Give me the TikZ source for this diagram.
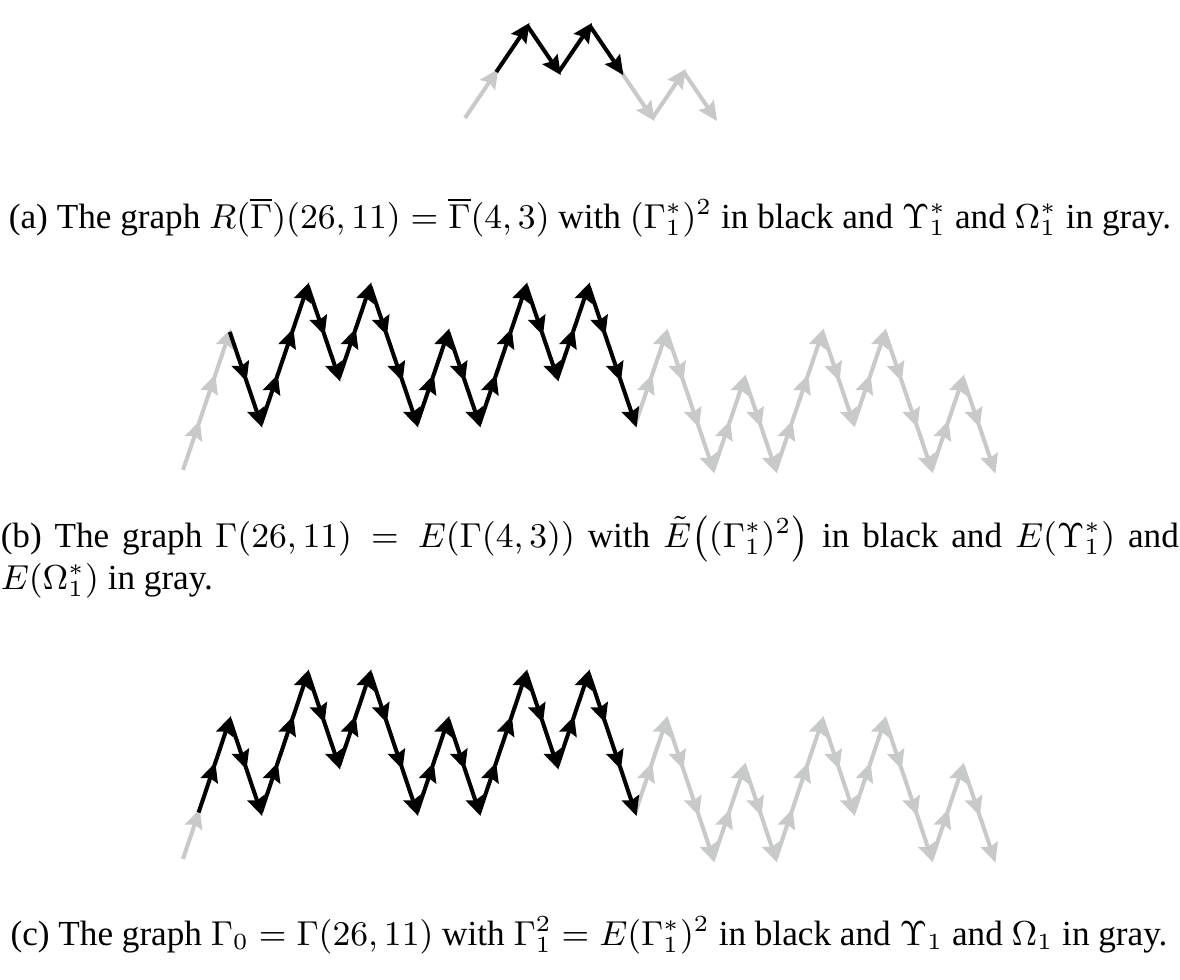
\documentclass[tikz,border=0pt]{standalone}
\usepackage{fontspec}
\setmainfont{Liberation Serif}
\usetikzlibrary{arrows.meta}
\definecolor{pathgray}{RGB}{200,201,201}
\tikzset{
  edgeline/.style={line width=1.05pt,line cap=butt,shorten >=-1pt,-{Stealth[length=5pt,width=4.6pt,inset=0.7pt]}},
  blackedge/.style={edgeline,draw=black},
  grayedge/.style={edgeline,draw=pathgray},
  captxt/.style={inner sep=0pt,font=\fontsize{9.15pt}{11pt}\selectfont},
}
\begin{document}
\begin{tikzpicture}[x=0.26pt,y=-0.26pt]
\useasboundingbox (0,0) rectangle (1180,980);
% ---------- (a)
\foreach \i/\h in {0/0,1/1,2/2,3/1,4/2,5/1,6/0,7/1,8/0}
  \coordinate (a\i) at ({465+31.25*\i},{118-46*\h});
\foreach \i in {0,5,6,7}{\pgfmathtruncatemacro{\j}{\i+1}
  \draw[grayedge] (a\i) -- (a\j);}
\foreach \i in {1,...,4}{\pgfmathtruncatemacro{\j}{\i+1}
  \draw[blackedge] (a\i) -- (a\j);}
% ---------- (b) and (c) vertices
\foreach \i/\h in {0/-1,1/0,2/1,3/2,4/1,5/0,6/1,7/2,8/3,9/2,10/1,11/2,12/3,13/2,14/1,15/0,16/1,17/2,18/1,19/0,20/1,21/2,22/3,23/2,24/1,25/2,26/3,27/2,28/1,29/0,30/1,31/2,32/1,33/0,34/-1,35/0,36/1,37/0,38/-1,39/0,40/1,41/2,42/1,43/0,44/1,45/2,46/1,47/0,48/-1,49/0,50/1,51/0,52/-1}{
  \coordinate (b\i) at ({183+15.6*\i},{424-46*(\h)});
  \coordinate (c\i) at ({183+15.6*\i},{812.5-46.5*(\h)});
}
% ---------- (b)
\foreach \i in {0,1,2,29,30,...,51}{\pgfmathtruncatemacro{\j}{\i+1}
  \draw[grayedge] (b\i) -- (b\j);}
\foreach \i in {3,...,28}{\pgfmathtruncatemacro{\j}{\i+1}
  \draw[blackedge] (b\i) -- (b\j);}
% ---------- (c)
\foreach \i in {0,29,30,...,51}{\pgfmathtruncatemacro{\j}{\i+1}
  \draw[grayedge] (c\i) -- (c\j);}
\foreach \i in {1,...,28}{\pgfmathtruncatemacro{\j}{\i+1}
  \draw[blackedge] (c\i) -- (c\j);}
% ---------- captions
\node[captxt,anchor=base] (capa) at (590,229)
  {(a) The graph $R(\overline{\Gamma})(26, 11) = \overline{\Gamma}(4, 3)$ with $(\Gamma^*_1)^2$ in black and $\Upsilon^*_1$ and $\Omega^*_1$ in gray.};
\node[captxt,anchor=base west] (capb1) at (0,548)
  {\makebox[306.3pt][s]{(b) The graph $\Gamma(26, 11) = E(\Gamma(4, 3))$ with $\tilde{E}{\left((\Gamma^*_1)^2\right)}$ in black and $E{\left(\Upsilon^*_1\right)}$ and}};
\node[captxt,anchor=base west] (capb2) at (0,590)
  {$E{\left(\Omega^*_1\right)}$ in gray.};
\node[captxt,anchor=base] (capc) at (589,946)
  {(c) The graph $\Gamma_0 = \Gamma(26, 11)$ with $\Gamma^2_1 = E(\Gamma^*_1)^2$ in black and $\Upsilon_1$ and $\Omega_1$ in gray.};
\end{tikzpicture}
\end{document}
